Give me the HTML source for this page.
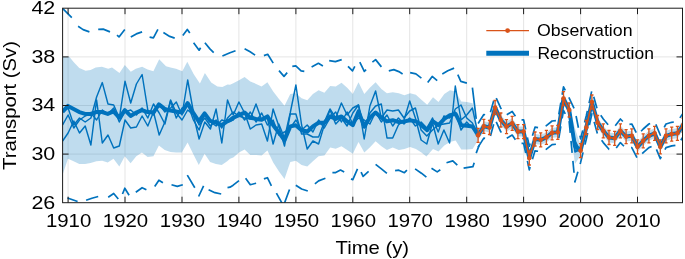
<!DOCTYPE html>
<html lang="en"><head><meta charset="utf-8"><title>Transport reconstruction</title>
<style>html,body{margin:0;padding:0;background:#fff}body{width:685px;height:259px;overflow:hidden}</style></head>
<body>
<svg width="685" height="259" viewBox="0 0 685 259" style="display:block;font-family:'Liberation Sans',Arial,Helvetica,sans-serif">
<rect width="685" height="259" fill="#fff"/>
<defs><clipPath id="c"><rect x="62.6" y="8.2" width="619.9" height="194.5"/></clipPath></defs>
<path d="M68.1 8.2V202.7M125.0 8.2V202.7M182.0 8.2V202.7M238.9 8.2V202.7M295.9 8.2V202.7M352.8 8.2V202.7M409.7 8.2V202.7M466.7 8.2V202.7M523.6 8.2V202.7M580.6 8.2V202.7M637.5 8.2V202.7M62.6 154.1H682.5M62.6 105.5H682.5M62.6 56.9H682.5" stroke="#e2e2e2" stroke-width="0.9" fill="none"/>
<g clip-path="url(#c)" fill="none" stroke-linejoin="round">
<polygon points="62.5,56.8 69.3,56.8 73.6,62.1 79.3,68.1 85.6,70.8 90.6,70.1 95.7,67.6 101.9,66.8 108.2,68.8 112.0,67.6 119.5,73.1 124.8,65.1 130.8,71.8 135.8,68.8 142.1,66.8 147.6,69.6 153.4,71.3 159.2,59.3 166.0,66.3 170.5,67.6 176.0,68.8 182.3,71.3 187.3,61.8 193.6,73.9 199.9,83.4 204.9,73.1 211.2,82.6 217.4,86.4 222.4,86.9 227.5,84.6 230.0,84.7 233.3,83.2 239.0,80.2 244.6,76.9 250.3,81.4 256.1,83.9 261.6,86.4 267.4,82.2 273.2,91.5 279.0,99.0 284.5,105.8 290.3,94.0 295.8,93.2 301.6,98.2 307.3,100.3 312.9,94.0 318.6,90.2 324.4,92.7 330.2,85.9 335.7,86.4 341.5,82.7 347.2,87.7 352.8,94.0 358.5,82.2 364.3,94.0 369.8,87.7 375.6,82.2 381.4,89.0 386.9,93.2 392.7,92.2 398.8,93.2 404.4,95.2 410.1,93.2 415.9,94.7 421.4,99.7 427.2,104.7 433.0,97.2 438.5,102.0 444.3,93.9 450.0,90.2 455.6,91.4 461.3,101.5 466.9,102.0 472.6,103.2 478.1,130.3 483.8,121.3 489.5,122.5 495.1,102.5 500.8,115.0 506.5,121.6 512.2,118.3 517.9,126.6 523.6,126.6 529.3,153.0 535.0,134.0 540.7,134.8 546.4,132.4 552.1,127.8 557.8,127.3 563.5,93.6 569.2,105.0 574.9,128.0 580.6,145.6 586.3,122.5 591.9,97.0 597.6,117.5 603.3,125.8 609.0,132.5 614.7,133.3 620.4,125.8 626.1,131.6 631.8,130.8 637.5,141.8 643.2,135.8 648.9,130.8 654.6,128.3 660.3,141.8 666.0,130.8 671.7,129.1 677.4,128.3 683.1,120.0 683.1,130.0 677.4,138.3 671.7,139.1 666.0,140.8 660.3,151.8 654.6,138.3 648.9,140.8 643.2,145.8 637.5,151.8 631.8,140.8 626.1,141.6 620.4,135.8 614.7,143.3 609.0,142.5 603.3,135.8 597.6,127.5 591.9,107.0 586.3,132.5 580.6,155.6 574.9,164.0 569.2,115.0 563.5,103.6 557.8,137.3 552.1,137.8 546.4,142.4 540.7,144.8 535.0,144.0 529.3,163.0 523.6,136.6 517.9,136.6 512.2,128.3 506.5,131.6 500.8,125.0 495.1,112.5 489.5,132.5 483.8,131.3 478.1,140.3 472.6,148.9 466.9,149.4 461.3,149.6 455.6,140.6 450.0,142.1 444.3,145.6 438.5,151.4 433.0,148.9 426.4,156.4 421.4,152.6 415.9,148.9 410.1,147.1 404.4,148.9 398.8,150.1 392.7,147.5 386.9,150.0 381.4,146.3 375.6,141.3 369.8,147.5 364.3,152.6 358.5,142.0 352.8,153.8 347.2,150.0 341.5,146.3 335.7,148.8 330.2,147.5 324.4,155.6 318.6,156.3 312.9,161.3 307.3,166.4 301.6,165.1 295.8,160.8 290.3,162.1 284.5,178.9 279.0,171.4 273.2,162.6 267.4,150.5 261.6,155.6 256.1,155.1 250.3,155.1 244.6,149.5 239.0,152.6 233.3,157.6 230.0,158.8 227.2,161.3 221.7,165.1 215.9,163.9 210.1,162.1 204.6,153.8 198.8,165.1 193.1,153.8 187.6,142.5 181.8,152.6 176.0,152.6 170.5,152.1 164.7,150.0 158.9,145.5 153.4,156.3 147.6,157.1 141.9,152.6 136.3,156.3 130.6,163.3 124.8,156.3 119.3,166.4 113.5,158.8 107.7,162.6 102.2,160.8 96.4,161.3 90.6,163.1 85.1,163.9 79.3,163.9 73.6,161.3 68.0,158.8 62.5,175.1" fill="#0072BD" fill-opacity="0.25" stroke="none"/>
<polyline points="62.6,141.0 68.1,133.0 73.8,121.0 79.5,133.0 85.2,126.0 90.9,145.0 96.6,100.0 102.3,143.0 108.0,135.0 113.7,148.0 119.3,146.0 125.0,120.0 130.7,128.0 136.4,127.0 142.1,116.0 147.8,126.0 153.5,112.0 159.2,135.0 164.9,122.0 170.6,100.0 176.3,113.0 182.0,120.0 187.7,110.0 193.4,115.0 199.1,139.0 204.8,122.0 210.4,129.0 216.1,109.0 221.8,143.0 227.5,100.0 233.2,115.0 238.9,102.0 244.6,113.0 250.3,129.0 256.0,125.0 261.7,124.0 267.4,141.0 273.1,109.0 278.8,126.0 284.5,146.0 290.2,114.0 295.9,114.0 301.6,134.0 307.2,134.0 312.9,137.0 318.6,137.0 324.3,122.0 330.0,109.0 335.7,118.0 341.4,103.0 347.1,115.0 352.8,108.0 358.5,105.0 364.2,128.0 369.9,113.0 375.6,106.0 381.3,104.0 387.0,138.0 392.7,138.0 398.4,125.0 404.0,120.0 409.7,101.0 415.4,118.0 421.1,140.0 426.8,144.0 432.5,123.0 438.2,144.0 443.9,130.0 449.6,143.0 455.3,86.0 461.0,120.0 466.7,115.0 472.4,108.0 478.1,134.6 483.8,127.0 489.5,126.8 495.1,108.2 500.8,119.3 506.5,127.3 512.2,122.6 517.9,132.3 523.6,130.9 529.3,158.7 535.0,138.3 540.7,140.5 546.4,136.7 552.1,133.5 557.8,131.6 563.5,99.3 569.2,109.3 574.9,150.2 580.6,149.9 586.3,128.2 591.9,101.3 597.6,123.2 603.3,130.1 609.0,138.2 614.7,137.6 620.4,131.5 626.1,135.9 631.8,136.5 637.5,146.1 643.2,141.5 648.9,135.1 654.6,134.0 660.3,146.1 666.0,136.5 671.7,133.4 677.4,134.0 683.1,124.3" stroke="#0072BD" stroke-width="1.45"/>
<polyline points="62.6,112.0 68.1,108.0 73.8,125.0 79.5,118.0 85.2,122.0 90.9,118.0 96.6,97.0 102.3,82.6 108.0,104.0 113.7,105.0 119.3,118.0 125.0,81.3 130.7,103.0 136.4,84.0 142.1,74.5 147.8,110.0 153.5,115.0 159.2,104.0 164.9,112.0 170.6,108.0 176.3,102.0 182.0,115.0 187.7,80.0 193.4,112.0 199.1,125.0 204.8,118.0 210.4,126.0 216.1,120.0 221.8,128.0 227.5,118.0 233.2,112.0 238.9,116.0 244.6,118.0 250.3,119.0 256.0,104.0 261.7,120.0 267.4,118.0 273.1,144.0 278.8,124.0 284.5,138.0 290.2,113.0 295.9,85.0 301.6,125.0 307.2,149.0 312.9,141.0 318.6,144.0 324.3,125.0 330.0,110.0 335.7,124.0 341.4,118.0 347.1,126.0 352.8,113.0 358.5,105.0 364.2,139.0 369.9,106.0 375.6,91.0 381.3,118.0 387.0,110.0 392.7,111.0 398.4,110.0 404.0,118.0 409.7,111.0 415.4,108.0 421.1,130.0 426.8,136.0 432.5,130.0 438.2,125.0 443.9,124.0 449.6,123.0 455.3,109.0 461.0,105.0 466.7,118.0 472.4,123.0 478.1,136.2 483.8,125.4 489.5,128.4 495.1,106.6 500.8,120.9 506.5,125.7 512.2,124.2 517.9,130.7 523.6,132.5 529.3,157.1 535.0,139.9 540.7,138.9 546.4,138.3 552.1,131.9 557.8,133.2 563.5,97.7 569.2,110.9 574.9,140.6 580.6,151.5 586.3,126.6 591.9,102.9 597.6,121.6 603.3,131.7 609.0,136.6 614.7,139.2 620.4,129.9 626.1,137.5 631.8,134.9 637.5,147.7 643.2,139.9 648.9,136.7 654.6,132.4 660.3,147.7 666.0,134.9 671.7,135.0 677.4,132.4 683.1,125.9" stroke="#0072BD" stroke-width="1.45"/>
<polyline points="62.6,125.0 68.1,115.0 73.8,128.0 79.5,120.0 85.2,116.0 90.9,113.0 96.6,120.0 102.3,110.0 108.0,114.0 113.7,108.0 119.3,122.0 125.0,112.0 130.7,110.0 136.4,115.0 142.1,108.0 147.8,118.0 153.5,104.0 159.2,113.0 164.9,124.0 170.6,101.0 176.3,118.0 182.0,108.0 187.7,104.0 193.4,120.0 199.1,130.0 204.8,113.0 210.4,122.0 216.1,126.0 221.8,120.0 227.5,122.0 233.2,120.0 238.9,112.0 244.6,120.0 250.3,112.0 256.0,122.0 261.7,113.0 267.4,125.0 273.1,120.0 278.8,135.0 284.5,132.0 290.2,128.0 295.9,120.0 301.6,130.0 307.2,125.0 312.9,132.0 318.6,120.0 324.3,128.0 330.0,118.0 335.7,112.0 341.4,122.0 347.1,112.0 352.8,124.0 358.5,118.0 364.2,120.0 369.9,124.0 375.6,112.0 381.3,122.0 387.0,115.0 392.7,126.0 398.4,118.0 404.0,124.0 409.7,118.0 415.4,126.0 421.1,122.0 426.8,128.0 432.5,118.0 438.2,132.0 443.9,116.0 449.6,118.0 455.3,112.0 461.0,130.0 466.7,122.0 472.4,128.0 478.1,134.3 483.8,127.3 489.5,126.5 495.1,108.5 500.8,119.0 506.5,127.6 512.2,122.3 517.9,132.6 523.6,130.6 529.3,159.0 535.0,138.0 540.7,140.8 546.4,136.4 552.1,133.8 557.8,131.3 563.5,99.6 569.2,109.0 574.9,152.0 580.6,149.6 586.3,128.5 591.9,101.0 597.6,123.5 603.3,129.8 609.0,138.5 614.7,137.3 620.4,131.8 626.1,135.6 631.8,136.8 637.5,145.8 643.2,141.8 648.9,134.8 654.6,134.3 660.3,145.8 666.0,136.8 671.7,133.1 677.4,134.3 683.1,124.0" stroke="#0072BD" stroke-width="1.45"/>
<path d="M62.5 8.3 L71.8 17.6M78.1 26.3 L83.1 29.6 L89.4 31.9M98.2 29.4 L103.2 29.1 L110.0 31.9M117.0 35.1 L119.0 36.9 L124.8 29.4M130.8 37.1 L136.3 33.9 L142.1 31.9M149.6 37.1 L153.4 37.9 L157.9 29.4M163.4 32.6 L169.7 36.4 L174.7 38.1M182.8 35.6 L187.3 29.4 L189.8 33.1M193.6 42.7 L199.1 50.2 L200.6 47.7M204.9 42.7 L209.9 48.9 L213.7 52.7M222.4 56.0 L230.0 52.7 L235.5 50.7M244.6 48.8 L250.1 51.8 L255.1 55.1M263.9 55.6 L267.7 54.3 L273.2 63.1M279.0 70.6 L284.0 76.4 L287.2 72.6M292.3 66.4 L295.8 65.9 L301.1 70.9 L304.3 71.4M311.6 66.9 L318.4 63.3 L322.9 65.9M329.2 60.6 L335.4 61.6 L341.7 59.6M348.0 66.4 L352.5 70.9 L354.8 66.4M359.8 62.1 L364.3 71.4 L366.1 69.6M372.4 62.1 L375.6 59.6 L381.4 66.9M388.8 70.8 L393.8 69.6 L398.8 71.6 L402.6 73.9M410.1 72.6 L415.9 73.9 L421.4 78.1M427.7 82.6 L432.2 76.4 L437.2 80.6M442.3 73.9 L447.8 70.8 L454.1 68.1M457.8 74.6 L460.8 81.4 L466.9 83.1M472.4 87.7 L476.2 118.8M67.5 198.0 L77.6 201.5M86.1 200.3 L91.9 198.2 L98.2 196.5M108.2 197.2 L113.7 193.5 L118.3 199.0M122.5 194.0 L124.8 188.2 L129.1 195.2M135.8 192.2 L142.1 187.7 L146.4 189.7M154.7 186.4 L158.9 180.2 L162.9 182.7M171.5 184.7 L177.3 186.4 L182.8 184.7M187.3 175.1 L194.8 187.7M198.6 196.5 L203.6 185.9M208.6 189.7 L214.9 192.7 L221.2 194.0M227.5 187.7 L230.0 187.2 L233.2 185.2 L239.0 180.7M245.6 178.2 L250.3 184.7 L256.1 183.2M263.9 178.9 L267.4 177.7 L271.4 185.9M276.4 193.2 L283.5 205.8 L289.5 189.5M295.8 185.2 L301.6 189.0 L307.8 191.0M314.9 183.9 L318.6 180.9 L325.4 178.2M332.4 172.6 L335.7 172.6 L340.5 170.1 L344.2 172.1M351.0 178.9 L352.8 179.7 L357.5 168.9M361.1 172.1 L363.1 176.4 L368.6 171.4M375.6 164.4 L381.4 168.9 L386.9 173.4M395.1 170.7 L398.8 170.2 L404.4 172.7 L406.9 170.2M415.1 168.9 L421.4 173.2 L426.4 177.2M431.5 168.2 L437.2 171.9 L440.3 169.7M446.5 162.7 L452.8 160.9 L457.3 165.2M463.6 168.2 L472.9 166.7 L474.2 162.7M476.2 153.1 L479.2 145.1" stroke="#0072BD" stroke-width="1.7"/>
<polyline points="478.1,123.5 483.8,114.5 489.5,115.7 495.1,95.7 500.8,108.2 506.5,114.8 512.2,111.5 517.9,119.8 523.6,119.8 529.3,146.2 535.0,127.2 540.7,128.0 546.4,125.6 552.1,121.0 557.8,120.5 563.5,86.8 569.2,98.2 574.9,110.0 580.6,138.8 586.3,115.7 591.9,90.2 597.6,110.7 603.3,119.0 609.0,125.7 614.7,126.5 620.4,119.0 626.1,124.8 631.8,124.0 637.5,135.0 643.2,129.0 648.9,124.0 654.6,121.5 660.3,135.0 666.0,124.0 671.7,122.3 677.4,121.5 683.1,113.2" stroke="#0072BD" stroke-width="1.7" stroke-dasharray="12 8" stroke-dashoffset="0"/>
<polyline points="478.1,147.1 483.8,138.1 489.5,139.3 495.1,119.3 500.8,131.8 506.5,138.4 512.2,135.1 517.9,143.4 523.6,143.4 529.3,169.8 535.0,150.8 540.7,151.6 546.4,149.2 552.1,144.6 557.8,144.1 563.5,110.4 569.2,121.8 574.9,182.0 580.6,162.4 586.3,139.3 591.9,113.8 597.6,134.3 603.3,142.6 609.0,149.3 614.7,150.1 620.4,142.6 626.1,148.4 631.8,147.6 637.5,158.6 643.2,152.6 648.9,147.6 654.6,145.1 660.3,158.6 666.0,147.6 671.7,145.9 677.4,145.1 683.1,136.8" stroke="#0072BD" stroke-width="1.7" stroke-dasharray="12 8" stroke-dashoffset="0"/>
<polyline points="62.5,111.9 68.0,105.9 73.6,108.9 79.3,112.1 85.1,113.9 90.6,113.9 96.4,112.1 102.2,112.1 107.7,113.9 113.5,111.4 119.3,117.7 124.8,110.1 130.6,115.9 136.3,112.6 141.9,110.1 147.6,112.1 153.4,112.6 158.9,104.4 164.7,108.9 170.5,110.6 176.0,111.4 181.8,112.6 187.6,103.1 193.1,112.6 198.8,121.4 204.6,113.4 210.1,120.9 215.9,122.7 221.7,125.2 227.2,121.4 230.0,120.2 233.3,117.7 239.0,115.1 244.6,112.6 250.3,117.7 256.1,118.9 261.6,119.7 267.4,116.4 273.2,125.2 279.0,132.7 284.5,140.3 290.3,126.4 295.8,125.2 301.6,130.2 307.3,131.5 312.9,126.4 318.6,122.7 324.4,122.7 330.2,116.4 335.7,118.9 341.5,116.4 347.2,121.4 352.8,125.2 358.5,111.4 364.3,126.4 369.8,117.7 375.6,112.6 381.4,117.7 386.9,121.4 392.7,120.2 398.8,122.2 404.4,121.4 410.1,120.2 415.9,121.4 421.4,125.2 427.2,130.2 433.0,121.4 438.5,125.2 444.3,118.9 450.0,115.1 455.6,113.9 461.3,125.2 466.9,125.7 472.6,126.4 478.1,135.3 483.8,126.3 489.5,127.5 495.1,107.5 500.8,120.0 506.5,126.6 512.2,123.3 517.9,131.6 523.6,131.6 529.3,158.0 535.0,139.0 540.7,139.8 546.4,137.4 552.1,132.8 557.8,132.3 563.5,98.6 569.2,110.0 574.9,146.0 580.6,150.6 586.3,127.5 591.9,102.0 597.6,122.5 603.3,130.8 609.0,137.5 614.7,138.3 620.4,130.8 626.1,136.6 631.8,135.8 637.5,146.8 643.2,140.8 648.9,135.8 654.6,133.3 660.3,146.8 666.0,135.8 671.7,134.1 677.4,133.3 683.1,125.0" stroke="#0072BD" stroke-width="4.0"/>
<polyline points="478.1,135.3 483.8,126.3 489.5,127.5 495.1,107.5 500.8,120.0 506.5,126.6 512.2,123.3 517.9,131.6 523.6,131.6 529.3,158.0 535.0,139.0 540.7,139.8 546.4,137.4 552.1,132.8 557.8,132.3 563.5,98.6 569.2,110.0" stroke="#D95319" stroke-width="1.6"/>
<polyline points="580.6,150.6 586.3,127.5 591.9,102.0 597.6,122.5 603.3,130.8 609.0,137.5 614.7,138.3 620.4,130.8 626.1,136.6 631.8,135.8 637.5,146.8 643.2,140.8 648.9,135.8 654.6,133.3 660.3,146.8 666.0,135.8 671.7,134.1 677.4,133.3 683.1,125.0" stroke="#D95319" stroke-width="1.6"/>
<path d="M478.1 128.3V142.3M476.5 128.3h3.2M476.5 142.3h3.2M483.8 119.3V133.3M482.2 119.3h3.2M482.2 133.3h3.2M489.5 120.5V134.5M487.9 120.5h3.2M487.9 134.5h3.2M495.1 100.5V114.5M493.5 100.5h3.2M493.5 114.5h3.2M500.8 113.0V127.0M499.2 113.0h3.2M499.2 127.0h3.2M506.5 119.6V133.6M504.9 119.6h3.2M504.9 133.6h3.2M512.2 116.3V130.3M510.6 116.3h3.2M510.6 130.3h3.2M517.9 124.6V138.6M516.3 124.6h3.2M516.3 138.6h3.2M523.6 124.6V138.6M522.0 124.6h3.2M522.0 138.6h3.2M529.3 151.0V165.0M527.7 151.0h3.2M527.7 165.0h3.2M535.0 132.0V146.0M533.4 132.0h3.2M533.4 146.0h3.2M540.7 132.8V146.8M539.1 132.8h3.2M539.1 146.8h3.2M546.4 130.4V144.4M544.8 130.4h3.2M544.8 144.4h3.2M552.1 125.8V139.8M550.5 125.8h3.2M550.5 139.8h3.2M557.8 125.3V139.3M556.2 125.3h3.2M556.2 139.3h3.2M563.5 91.6V105.6M561.9 91.6h3.2M561.9 105.6h3.2M569.2 103.0V117.0M567.6 103.0h3.2M567.6 117.0h3.2M580.6 143.6V157.6M579.0 143.6h3.2M579.0 157.6h3.2M586.3 120.5V134.5M584.7 120.5h3.2M584.7 134.5h3.2M591.9 95.0V109.0M590.3 95.0h3.2M590.3 109.0h3.2M597.6 115.5V129.5M596.0 115.5h3.2M596.0 129.5h3.2M603.3 123.8V137.8M601.7 123.8h3.2M601.7 137.8h3.2M609.0 130.5V144.5M607.4 130.5h3.2M607.4 144.5h3.2M614.7 131.3V145.3M613.1 131.3h3.2M613.1 145.3h3.2M620.4 123.8V137.8M618.8 123.8h3.2M618.8 137.8h3.2M626.1 129.6V143.6M624.5 129.6h3.2M624.5 143.6h3.2M631.8 128.8V142.8M630.2 128.8h3.2M630.2 142.8h3.2M637.5 139.8V153.8M635.9 139.8h3.2M635.9 153.8h3.2M643.2 133.8V147.8M641.6 133.8h3.2M641.6 147.8h3.2M648.9 128.8V142.8M647.3 128.8h3.2M647.3 142.8h3.2M654.6 126.3V140.3M653.0 126.3h3.2M653.0 140.3h3.2M660.3 139.8V153.8M658.7 139.8h3.2M658.7 153.8h3.2M666.0 128.8V142.8M664.4 128.8h3.2M664.4 142.8h3.2M671.7 127.1V141.1M670.1 127.1h3.2M670.1 141.1h3.2M677.4 126.3V140.3M675.8 126.3h3.2M675.8 140.3h3.2M683.1 118.0V132.0M681.5 118.0h3.2M681.5 132.0h3.2" stroke="#D95319" stroke-width="1.3"/>
<circle cx="478.1" cy="135.3" r="2.3" fill="#D95319" stroke="none"/>
<circle cx="483.8" cy="126.3" r="2.3" fill="#D95319" stroke="none"/>
<circle cx="489.5" cy="127.5" r="2.3" fill="#D95319" stroke="none"/>
<circle cx="495.1" cy="107.5" r="2.3" fill="#D95319" stroke="none"/>
<circle cx="500.8" cy="120.0" r="2.3" fill="#D95319" stroke="none"/>
<circle cx="506.5" cy="126.6" r="2.3" fill="#D95319" stroke="none"/>
<circle cx="512.2" cy="123.3" r="2.3" fill="#D95319" stroke="none"/>
<circle cx="517.9" cy="131.6" r="2.3" fill="#D95319" stroke="none"/>
<circle cx="523.6" cy="131.6" r="2.3" fill="#D95319" stroke="none"/>
<circle cx="529.3" cy="158.0" r="2.3" fill="#D95319" stroke="none"/>
<circle cx="535.0" cy="139.0" r="2.3" fill="#D95319" stroke="none"/>
<circle cx="540.7" cy="139.8" r="2.3" fill="#D95319" stroke="none"/>
<circle cx="546.4" cy="137.4" r="2.3" fill="#D95319" stroke="none"/>
<circle cx="552.1" cy="132.8" r="2.3" fill="#D95319" stroke="none"/>
<circle cx="557.8" cy="132.3" r="2.3" fill="#D95319" stroke="none"/>
<circle cx="563.5" cy="98.6" r="2.3" fill="#D95319" stroke="none"/>
<circle cx="569.2" cy="110.0" r="2.3" fill="#D95319" stroke="none"/>
<circle cx="580.6" cy="150.6" r="2.3" fill="#D95319" stroke="none"/>
<circle cx="586.3" cy="127.5" r="2.3" fill="#D95319" stroke="none"/>
<circle cx="591.9" cy="102.0" r="2.3" fill="#D95319" stroke="none"/>
<circle cx="597.6" cy="122.5" r="2.3" fill="#D95319" stroke="none"/>
<circle cx="603.3" cy="130.8" r="2.3" fill="#D95319" stroke="none"/>
<circle cx="609.0" cy="137.5" r="2.3" fill="#D95319" stroke="none"/>
<circle cx="614.7" cy="138.3" r="2.3" fill="#D95319" stroke="none"/>
<circle cx="620.4" cy="130.8" r="2.3" fill="#D95319" stroke="none"/>
<circle cx="626.1" cy="136.6" r="2.3" fill="#D95319" stroke="none"/>
<circle cx="631.8" cy="135.8" r="2.3" fill="#D95319" stroke="none"/>
<circle cx="637.5" cy="146.8" r="2.3" fill="#D95319" stroke="none"/>
<circle cx="643.2" cy="140.8" r="2.3" fill="#D95319" stroke="none"/>
<circle cx="648.9" cy="135.8" r="2.3" fill="#D95319" stroke="none"/>
<circle cx="654.6" cy="133.3" r="2.3" fill="#D95319" stroke="none"/>
<circle cx="660.3" cy="146.8" r="2.3" fill="#D95319" stroke="none"/>
<circle cx="666.0" cy="135.8" r="2.3" fill="#D95319" stroke="none"/>
<circle cx="671.7" cy="134.1" r="2.3" fill="#D95319" stroke="none"/>
<circle cx="677.4" cy="133.3" r="2.3" fill="#D95319" stroke="none"/>
<circle cx="683.1" cy="125.0" r="2.3" fill="#D95319" stroke="none"/>
</g>
<path d="M68.1 202.7v-6M68.1 8.2v6M125.0 202.7v-6M125.0 8.2v6M182.0 202.7v-6M182.0 8.2v6M238.9 202.7v-6M238.9 8.2v6M295.9 202.7v-6M295.9 8.2v6M352.8 202.7v-6M352.8 8.2v6M409.7 202.7v-6M409.7 8.2v6M466.7 202.7v-6M466.7 8.2v6M523.6 202.7v-6M523.6 8.2v6M580.6 202.7v-6M580.6 8.2v6M637.5 202.7v-6M637.5 8.2v6M62.6 154.1h6M682.5 154.1h-6M62.6 105.5h6M682.5 105.5h-6M62.6 56.9h6M682.5 56.9h-6" stroke="#1c1c1c" stroke-width="1" fill="none"/>
<rect x="62.6" y="8.2" width="619.9" height="194.5" fill="none" stroke="#1c1c1c" stroke-width="1"/>
<line x1="486.3" y1="30.6" x2="529" y2="30.6" stroke="#D95319" stroke-width="1.4"/>
<circle cx="507.6" cy="30.6" r="2.4" fill="#D95319"/>
<line x1="486.3" y1="53.2" x2="529" y2="53.2" stroke="#0072BD" stroke-width="5.0"/>
<text x="536.9" y="36.4" font-size="17.4" fill="#000" textLength="95.6" lengthAdjust="spacingAndGlyphs">Observation</text>
<text x="537.4" y="58.5" font-size="17.4" fill="#000" textLength="116.5" lengthAdjust="spacingAndGlyphs">Reconstruction</text>
<text x="68.6" y="226.8" font-size="18.6" fill="#000" text-anchor="middle" textLength="45.4" lengthAdjust="spacingAndGlyphs">1910</text>
<text x="125.5" y="226.8" font-size="18.6" fill="#000" text-anchor="middle" textLength="45.4" lengthAdjust="spacingAndGlyphs">1920</text>
<text x="182.5" y="226.8" font-size="18.6" fill="#000" text-anchor="middle" textLength="45.4" lengthAdjust="spacingAndGlyphs">1930</text>
<text x="239.4" y="226.8" font-size="18.6" fill="#000" text-anchor="middle" textLength="45.4" lengthAdjust="spacingAndGlyphs">1940</text>
<text x="296.4" y="226.8" font-size="18.6" fill="#000" text-anchor="middle" textLength="45.4" lengthAdjust="spacingAndGlyphs">1950</text>
<text x="353.3" y="226.8" font-size="18.6" fill="#000" text-anchor="middle" textLength="45.4" lengthAdjust="spacingAndGlyphs">1960</text>
<text x="410.2" y="226.8" font-size="18.6" fill="#000" text-anchor="middle" textLength="45.4" lengthAdjust="spacingAndGlyphs">1970</text>
<text x="467.2" y="226.8" font-size="18.6" fill="#000" text-anchor="middle" textLength="45.4" lengthAdjust="spacingAndGlyphs">1980</text>
<text x="524.1" y="226.8" font-size="18.6" fill="#000" text-anchor="middle" textLength="45.4" lengthAdjust="spacingAndGlyphs">1990</text>
<text x="581.1" y="226.8" font-size="18.6" fill="#000" text-anchor="middle" textLength="45.4" lengthAdjust="spacingAndGlyphs">2000</text>
<text x="638.0" y="226.8" font-size="18.6" fill="#000" text-anchor="middle" textLength="45.4" lengthAdjust="spacingAndGlyphs">2010</text>
<text x="31.4" y="208.5" font-size="18.6" fill="#000" textLength="23.9" lengthAdjust="spacingAndGlyphs">26</text>
<text x="31.4" y="159.9" font-size="18.6" fill="#000" textLength="23.9" lengthAdjust="spacingAndGlyphs">30</text>
<text x="31.4" y="111.3" font-size="18.6" fill="#000" textLength="23.9" lengthAdjust="spacingAndGlyphs">34</text>
<text x="31.4" y="62.7" font-size="18.6" fill="#000" textLength="23.9" lengthAdjust="spacingAndGlyphs">38</text>
<text x="31.4" y="14.1" font-size="18.6" fill="#000" textLength="23.9" lengthAdjust="spacingAndGlyphs">42</text>
<text x="335.6" y="253.6" font-size="18.6" fill="#000" textLength="73.5" lengthAdjust="spacingAndGlyphs">Time (y)</text>
<text transform="translate(15.5,170) rotate(-90)" font-size="18.6" fill="#000" textLength="129" lengthAdjust="spacingAndGlyphs">Transport (Sv)</text>
</svg>
</body></html>
